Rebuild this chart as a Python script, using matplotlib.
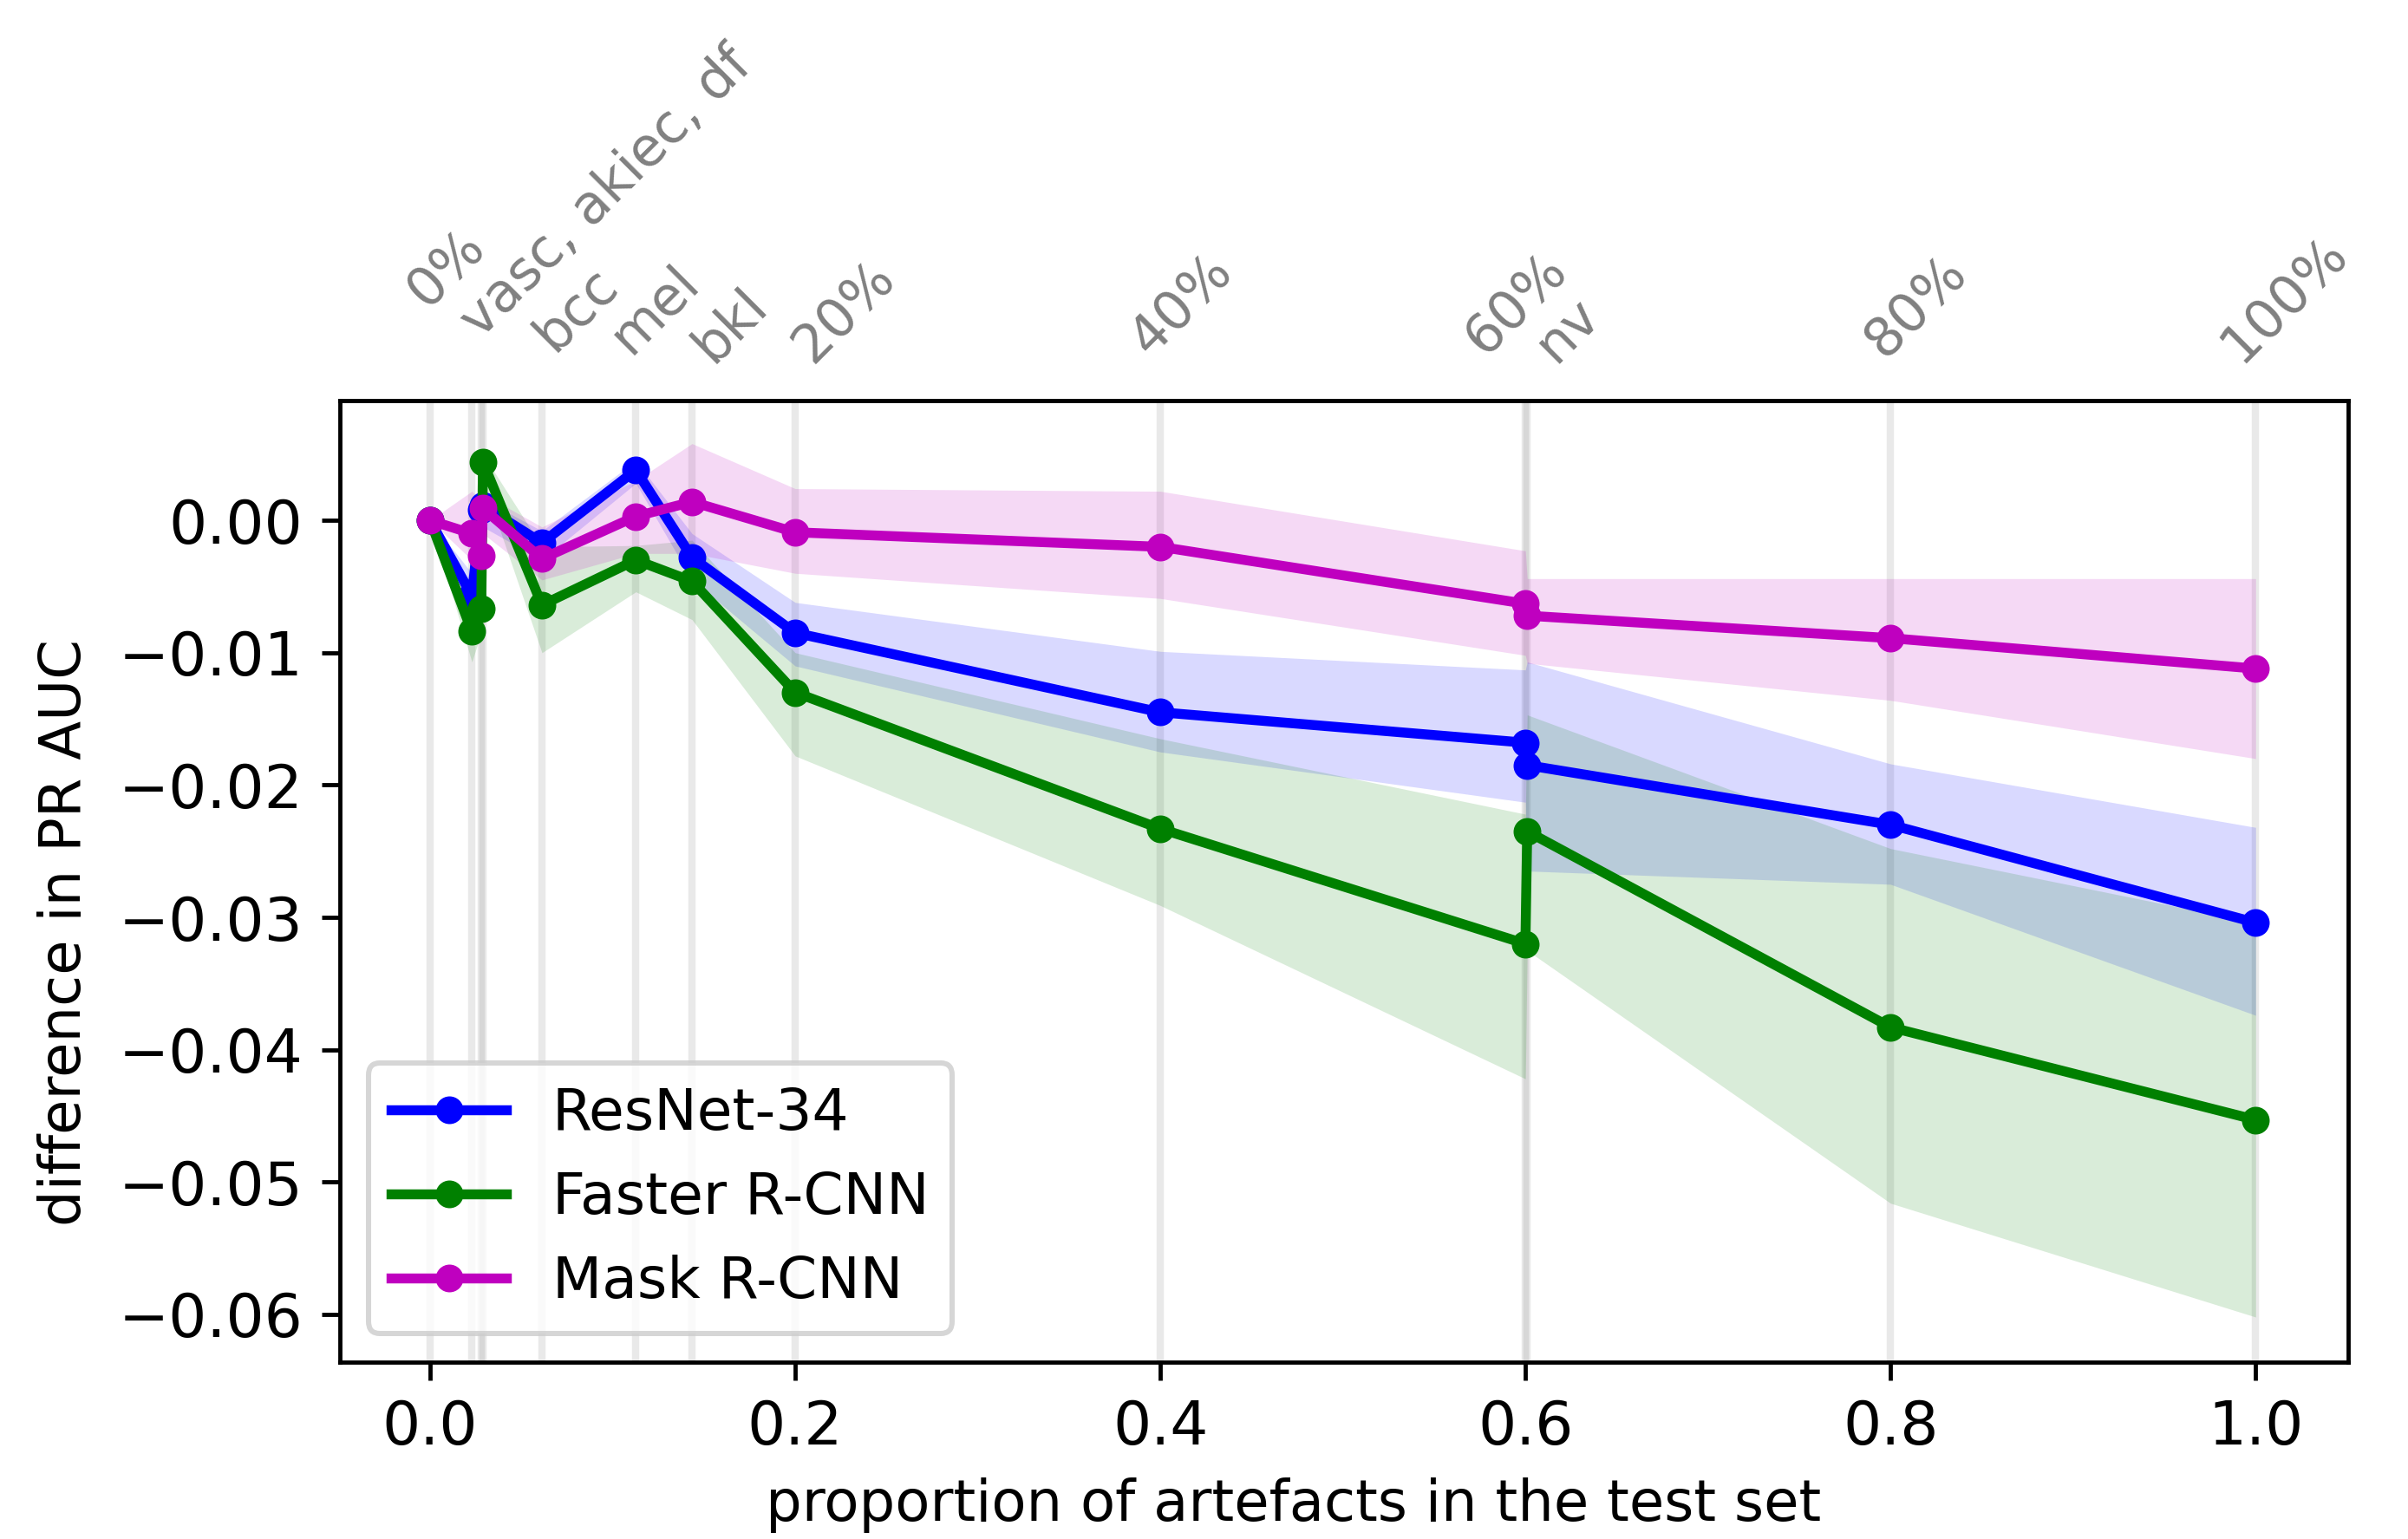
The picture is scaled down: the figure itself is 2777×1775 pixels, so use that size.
import numpy as np
import matplotlib
matplotlib.use("Agg")
import matplotlib.pyplot as plt

# proportion of artefacts in the test set
x = [0, 0.0229, 0.028, 0.029, 0.0613, 0.1127, 0.1435, 0.2, 0.4, 0.6, 0.601, 0.8, 1.0]

# ResNet-34
resnet_mean = [0, -0.0057, 0.0008, 0.0011, -0.0017, 0.0038, -0.0028, -0.0085, -0.0145, -0.0168, -0.0185, -0.0230, -0.0304]
resnet_hi = [0, -0.0040, 0.0014, 0.0016, -0.0008, 0.0045, -0.0010, -0.0062, -0.0099, -0.0113, -0.0107, -0.0184, -0.0232]
resnet_lo = [0, -0.0072, -0.0010, -0.0005, -0.0030, 0.0028, -0.0045, -0.0110, -0.0175, -0.0213, -0.0265, -0.0275, -0.0374]

# Faster R-CNN
faster_mean = [0, -0.0084, -0.0067, 0.0044, -0.0064, -0.0030, -0.0046, -0.0130, -0.0233, -0.0320, -0.0235, -0.0383, -0.0453]
faster_hi = [0, -0.0070, -0.0050, 0.0050, -0.0020, -0.0019, -0.0015, -0.0100, -0.0165, -0.0222, -0.0147, -0.0248, -0.0304]
faster_lo = [0, -0.0107, -0.0085, 0.0030, -0.0100, -0.0054, -0.0075, -0.0178, -0.0291, -0.0422, -0.0325, -0.0516, -0.0602]

# Mask R-CNN
mask_mean = [0, -0.0010, -0.0027, 0.0009, -0.0029, 0.0003, 0.0014, -0.0009, -0.0020, -0.0063, -0.0072, -0.0089, -0.0112]
mask_hi = [0, 0.0022, 0.0015, 0.0020, -0.0005, 0.0030, 0.0058, 0.0024, 0.0022, -0.0023, -0.0044, -0.0044, -0.0044]
mask_lo = [0, -0.0030, -0.0040, -0.0010, -0.0045, -0.0025, -0.0025, -0.0040, -0.0059, -0.0102, -0.0108, -0.0136, -0.0180]

# labels on top of the plot
top_labels = ["0%", "vasc, akiec, df", "bcc", "mel", "bkl", "20%", "40%", "60%", "nv", "80%", "100%"]
top_pos = [0, 0.0285, 0.0613, 0.1127, 0.1435, 0.2, 0.4, 0.6, 0.601, 0.8, 1.0]
# nudge of each label (points)
top_nudge = [(-0.6, 17.6), (-0.4, 11.6), (2.2, 9.0), (-1.1, 8.6), (3.9, 7.0), (3.3, 7.0),
             (-2.0, 8.2), (-7.8, 8.4), (5.4, 7.0), (-1.2, 7.9), (-3.0, 7.0)]

plt.rcParams['xtick.labelsize'] = 11.5
plt.rcParams['ytick.labelsize'] = 11.5
plt.rcParams['axes.labelsize'] = 10.9
plt.rcParams['legend.fontsize'] = 11

fig = plt.figure(figsize=(2777 / 434, 1775 / 434), dpi=434)
ax = fig.add_axes([0.141, 0.115, 0.834, 0.6247])

# grey lines at each point
for xv in x:
    ax.axvline(xv, color='gray', alpha=0.17, linewidth=1.4, zorder=0)

ax.plot(x, resnet_mean, 'bo-', linewidth=1.9, markersize=4.3, label='ResNet-34')
ax.fill_between(x, resnet_lo, resnet_hi, color='b', alpha=0.15, linewidth=0)
ax.plot(x, faster_mean, 'go-', linewidth=1.9, markersize=4.3, label='Faster R-CNN')
ax.fill_between(x, faster_lo, faster_hi, color='g', alpha=0.15, linewidth=0)
ax.plot(x, mask_mean, 'mo-', linewidth=1.9, markersize=4.3, label='Mask R-CNN')
ax.fill_between(x, mask_lo, mask_hi, color='m', alpha=0.15, linewidth=0)

ax.set_xlim(-0.0496, 1.0505)
ax.set_ylim(-0.0636, 0.00905)
ax.set_xticks([0.0, 0.2, 0.4, 0.6, 0.8, 1.0])
ax.set_yticks([0.0, -0.01, -0.02, -0.03, -0.04, -0.05, -0.06])
ax.set_xlabel('proportion of artefacts in the test set')
ax.set_ylabel('difference in PR AUC')
ax.xaxis.set_label_coords(0.475, -0.12)
ax.yaxis.set_label_coords(-0.123, 0.447)
ax.legend(loc='lower left')

for lab, pos, (dx, dy) in zip(top_labels, top_pos, top_nudge):
    ax.annotate(lab, xy=(pos, 1), xycoords=('data', 'axes fraction'),
                xytext=(dx, dy), textcoords='offset points',
                rotation=45, rotation_mode='anchor', ha='left', va='baseline',
                color='gray', fontsize=10.3, annotation_clip=False)

fig.savefig('out.png', dpi=434)
